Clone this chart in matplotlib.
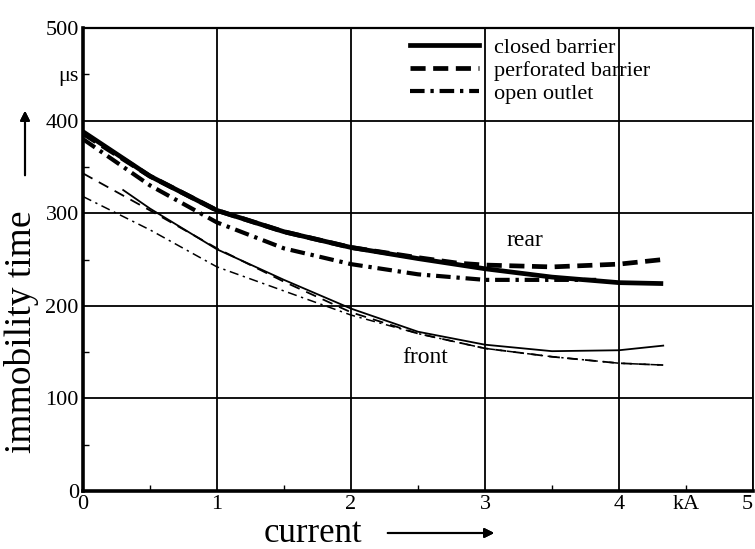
import numpy as np
import matplotlib.pyplot as plt
from matplotlib.lines import Line2D

plt.rcParams['font.family'] = ['Liberation Serif', 'DejaVu Serif']

# rear (thick) curves
x_closed_rear = [0, 0.5, 1, 1.5, 2, 2.5, 3, 3.5, 4, 4.33]
y_closed_rear = [388, 340, 303, 280, 263, 251, 240, 231, 225, 224]
x_perf_rear = [0, 0.5, 1, 1.5, 2, 2.5, 2.8, 3, 3.5, 4, 4.33]
y_perf_rear = [386, 340, 303, 280, 263, 252, 246, 244, 242, 245, 250]
x_open_rear = [0, 0.5, 1, 1.5, 2, 2.5, 3, 3.5, 3.83]
y_open_rear = [380, 330, 290, 262, 245, 234, 228, 228, 228]

# front (thin) curves
x_closed_front = [0.3, 0.5, 1, 1.5, 2, 2.5, 3, 3.5, 4, 4.33]
y_closed_front = [325, 305, 261, 228, 197, 172, 158, 151, 152, 157]
x_perf_front = [0, 0.5, 1, 1.5, 2, 2.5, 3, 3.5, 4, 4.33]
y_perf_front = [343, 303, 262, 226, 193, 170, 154, 145, 138, 136]
x_open_front = [0, 0.5, 1, 1.5, 2, 2.5, 3, 3.5, 4, 4.33]
y_open_front = [318, 282, 242, 216, 190, 170, 154, 145, 138, 136]

legend_labels = ['closed barrier', 'perforated barrier', 'open outlet']

fig = plt.figure(figsize=(7.55, 5.49), dpi=100)
ax = fig.add_axes([83 / 755, 1 - 491 / 549, 670 / 755, 463 / 549])

dash_perf = (3.2, 1.6)
dash_open = (3.5, 1.4, 0.8, 1.4)

ax.plot(x_closed_rear, y_closed_rear, color='black', lw=3.4, solid_capstyle='butt')
ax.plot(x_perf_rear, y_perf_rear, color='black', lw=3.4, dashes=dash_perf)
ax.plot(x_open_rear, y_open_rear, color='black', lw=3.0, dashes=dash_open)

ax.plot(x_closed_front, y_closed_front, color='black', lw=1.3)
ax.plot(x_perf_front, y_perf_front, color='black', lw=1.3, dashes=(6, 4))
ax.plot(x_open_front, y_open_front, color='black', lw=1.1, dashes=(6, 3, 1.5, 3))

ax.set_xlim(0, 5)
ax.set_ylim(0, 500)

ax.set_xticks([0, 1, 2, 3, 4, 5])
ax.set_xticklabels(['0', '1', '2', '3', '4', '5'])
ax.get_xticklabels()[-1].set_ha('right')
ax.set_xticks([0.5, 1.5, 2.5, 3.5, 4.5], minor=True)
ax.set_xticklabels(['', '', '', '', 'kA'], minor=True)
ax.set_yticks([0, 100, 200, 300, 400, 500])
ax.set_yticks([50, 150, 250, 350, 450], minor=True)
ax.set_yticklabels(['', '', '', '', 'μs'], minor=True)

ax.tick_params(which='both', direction='in', labelsize=16, pad=3)
ax.tick_params(which='major', length=0)
ax.tick_params(which='minor', length=4, width=1)
ax.grid(True, which='major', color='black', lw=1.3)

for side, w in [('left', 2.6), ('bottom', 2.6), ('top', 1.6), ('right', 1.3)]:
    ax.spines[side].set_linewidth(w)

ax.text(3.3, 271, 'rear', fontsize=17, ha='center', va='center')
ax.text(2.55, 144, 'front', fontsize=17, ha='center', va='center')

handles = [
    Line2D([], [], color='black', lw=3.4),
    Line2D([], [], color='black', lw=3.4, dashes=dash_perf),
    Line2D([], [], color='black', lw=3.0, dashes=dash_open),
]
ax.legend(handles, legend_labels, loc='upper left', bbox_to_anchor=(0.488, 0.98),
          frameon=False, fontsize=16, handlelength=3.1, handletextpad=0.7,
          labelspacing=0.12, borderpad=0, borderaxespad=0)

# axis labels with arrows
fig.text(22 / 755, 1 - 332 / 549, 'immobility time', rotation=90,
         fontsize=27, ha='center', va='center')
fig.add_artist(plt.annotate('', xy=(25 / 755, 1 - 108 / 549), xytext=(25 / 755, 1 - 178 / 549),
                            xycoords='figure fraction', textcoords='figure fraction',
                            arrowprops=dict(arrowstyle='-|>', color='black', lw=1.5,
                                            mutation_scale=14)))
fig.text(313 / 755, 1 - 533 / 549, 'current', fontsize=25, ha='center', va='center')
fig.add_artist(plt.annotate('', xy=(497 / 755, 1 - 533 / 549), xytext=(385 / 755, 1 - 533 / 549),
                            xycoords='figure fraction', textcoords='figure fraction',
                            arrowprops=dict(arrowstyle='-|>', color='black', lw=1.5,
                                            mutation_scale=14)))

fig.savefig('out.png', dpi=100)
